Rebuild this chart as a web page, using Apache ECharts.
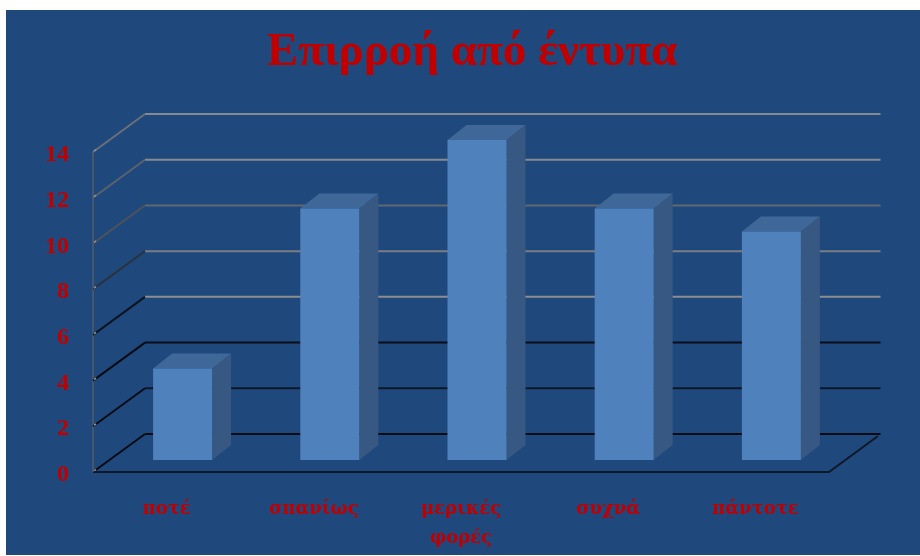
<!DOCTYPE html>
<html>
<head>
<meta charset="utf-8">
<style>html,body{margin:0;padding:0;background:#fff}#chart{width:920px;height:556px}</style>
<script src="https://cdn.jsdelivr.net/npm/echarts@6/dist/echarts.min.js"></script>
</head>
<body>
<div id="chart"></div>
<script>
// Survey answers and counts for the column chart
const categories = ['ποτέ', 'σπανίως', 'μερικές\nφορές', 'συχνά', 'πάντοτε'];
const counts = [4, 11, 14, 11, 10];
const wallTicks = [0, 2, 4, 6, 8, 10, 12, 14];
const backLineColors = ['#060b14', '#0e1828', '#070d18', '#8c8e90', '#7a7e84', '#5f6870', '#868a8e', '#868a8e'];
const sideLineColors = ['#060b14', '#060b14', '#060b14', '#0c1420', '#2a3340', '#4a525c', '#5a626c', '#6a7078'];

// Pseudo-3D depth of the chart box and of each column
const WALL_DX = 52, WALL_DY = 38;
const BAR_SHIFT_X = 16.5, BAR_SHIFT_Y = 12, BAR_W = 59, BAR_DX = 19, BAR_DY = 15;

const chart = echarts.init(document.getElementById('chart'), null, { renderer: 'canvas' });
const serif = '"Liberation Serif", "DejaVu Serif", serif';

chart.setOption({
  animation: false,
  backgroundColor: '#ffffff',
  graphic: [{
    type: 'rect', z: 0, silent: true,
    shape: { x: 6, y: 10, width: 914, height: 545 },
    style: { fill: '#1F497D' }
  }],
  title: {
    text: 'Επιρροή από έντυπα',
    left: 467, top: 24, textAlign: 'center',
    textStyle: { color: '#C00000', fontFamily: serif, fontWeight: 'bold', fontSize: 47 }
  },
  grid: { left: 93, right: 91, top: 152, bottom: 84 },
  xAxis: {
    type: 'category',
    data: categories,
    axisLine: { show: false },
    axisTick: { show: false },
    axisLabel: {
      color: '#C00000', margin: 23, lineHeight: 29,
      fontFamily: '"DejaVu Serif", serif', fontWeight: 'bold', fontSize: 18
    }
  },
  yAxis: {
    type: 'value', min: 0, max: 14, interval: 2,
    axisLine: { show: false },
    axisTick: { show: false },
    splitLine: { show: false },
    axisLabel: {
      color: '#C00000', margin: 24, verticalAlign: 'top', lineHeight: 6,
      fontFamily: serif, fontWeight: 'bold', fontSize: 24
    }
  },
  series: [
    {
      // Side wall, back wall and floor of the box, one polyline per tick value
      type: 'custom',
      z: 1,
      silent: true,
      data: wallTicks.map((v, i) => [0, v, i]),
      encode: { x: 0, y: 1 },
      renderItem(params, api) {
        const v = api.value(1);
        const i = api.value(2);
        const rect = params.coordSys;
        const y = api.coord([0, v])[1];
        const left = rect.x, right = rect.x + rect.width;
        const children = [{
          type: 'line',
          shape: { x1: left + WALL_DX, y1: y - WALL_DY, x2: right + WALL_DX - 0.5, y2: y - WALL_DY },
          style: { stroke: backLineColors[i], lineWidth: 2 }
        }, {
          type: 'line',
          shape: { x1: left, y1: y, x2: left + WALL_DX, y2: y - WALL_DY },
          style: { stroke: sideLineColors[i], lineWidth: 2 }
        }, {
          // Small pale notch where each wall line meets the vertical edge
          type: 'line',
          shape: { x1: left + 1, y1: y - 1, x2: left + 3, y2: y - 2.5 },
          style: { stroke: '#8f9499', lineWidth: 1.5 }
        }];
        if (v === 0) {
          children.push({
            type: 'polyline',
            shape: { points: [[left, y], [right, y], [right + WALL_DX - 3, y - WALL_DY + 2]] },
            style: { fill: 'none', stroke: '#0e1828', lineWidth: 2 }
          }, {
            type: 'line',
            shape: { x1: left, y1: rect.y, x2: left, y2: y },
            style: { stroke: '#525c68', lineWidth: 1.5 }
          });
        }
        return { type: 'group', children };
      }
    },
    {
      // Columns: front face plus the top and right faces
      type: 'custom',
      z: 3,
      data: counts.map((v, i) => [i, v]),
      encode: { x: 0, y: 1 },
      renderItem(params, api) {
        const top = api.coord([api.value(0), api.value(1)]);
        const base = api.coord([api.value(0), 0]);
        const x0 = top[0] + BAR_SHIFT_X - 30;
        const x1 = x0 + BAR_W;
        const yT = top[1] - BAR_SHIFT_Y;
        const yB = base[1] - BAR_SHIFT_Y;
        return {
          type: 'group',
          children: [
            { type: 'polygon',
              shape: { points: [[x1, yT], [x1 + BAR_DX, yT - BAR_DY], [x1 + BAR_DX, yB - BAR_DY], [x1, yB]] },
              style: { fill: '#365882' } },
            { type: 'polygon',
              shape: { points: [[x0, yT], [x0 + BAR_DX, yT - BAR_DY], [x1 + BAR_DX, yT - BAR_DY], [x1, yT]] },
              style: { fill: '#3F6797' } },
            { type: 'rect',
              shape: { x: x0, y: yT, width: BAR_W, height: yB - yT },
              style: { fill: '#4F81BD' } }
          ]
        };
      }
    }
  ]
});
</script>
</body>
</html>
